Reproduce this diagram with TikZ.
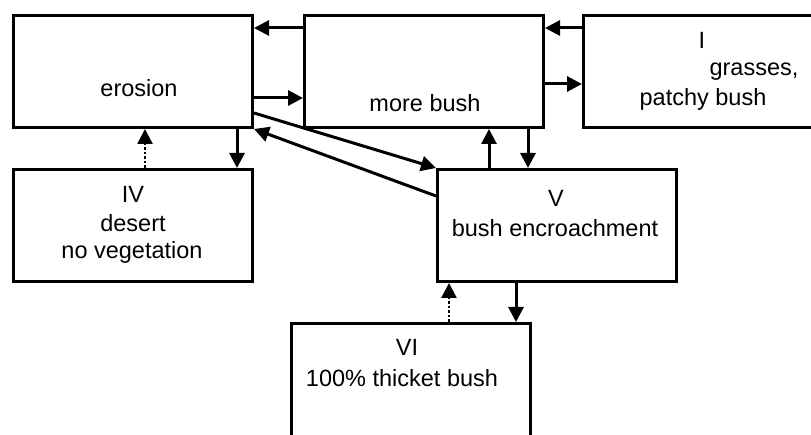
\documentclass[tikz,border=0pt]{standalone}
\usepackage{fontspec}
\setmainfont{Liberation Sans}
\usetikzlibrary{arrows.meta}
\begin{document}
\begin{tikzpicture}[x=1pt,y=-1pt,
  box/.style={draw,line width=3pt,minimum width=239pt,minimum height=112pt,inner sep=0pt,anchor=north west},
  txt/.style={inner sep=0pt,font=\fontsize{23.5}{29}\selectfont},
  arr/.style={line width=3pt,-{Triangle[length=15pt,width=15pt]}},
  dotarr/.style={line width=2.5pt,dotted,-{Triangle[length=15pt,width=15pt]}}]
\useasboundingbox (0,0) rectangle (811,435);
\clip (0,0) rectangle (811,435);
% boxes
\node[box] (er) at (12,14) {};
\node[box] (mb) at (303,14) {};
\node[box] (gr) at (582,14) {};
\node[box] (de) at (12,168) {};
\node[box] (be) at (436,168) {};
\node[box,minimum height=116pt] (th) at (290,322) {};
% texts
\node[txt] (terosion) at (139,88) {erosion};
\node[txt] (tmore) at (425,103) {more bush};
\node[txt] (tI) at (702,40) {I};
\node[txt] (tgr) at (754,72) {grasses,};
\node[txt] (tpb) at (703,99) {patchy bush};
\node[txt] (tIV) at (133,194) {IV};
\node[txt] (tdes) at (133,223) {desert};
\node[txt] (tnv) at (132,252) {no vegetation};
\node[txt] (tV) at (556,198) {V};
\node[txt] (tbe) at (555,228) {bush encroachment};
\node[txt] (tVI) at (407,347) {VI};
\node[txt] (ttb) at (402,378) {100\% thicket bush};
% connectors
\draw[arr] (mb.west |- 0,28) -- (er.east |- 0,28);
\draw[arr] (er.east |- 0,98) -- (mb.west |- 0,98);
\draw[arr] (gr.west |- 0,28) -- (mb.east |- 0,28);
\draw[arr] (mb.east |- 0,84) -- (gr.west |- 0,84);
\draw[arr] (er.south -| 237,0) -- (de.north -| 237,0);
\draw[dotarr] (de.north -| 145,0) -- (er.south -| 145,0);
\draw[arr] (er.east |- 0,113) -- (be.north west);
\draw[arr] (be.west |- 0,196) -- (er.south east);
\draw[arr] (be.north -| 489,0) -- (mb.south -| 489,0);
\draw[arr] (mb.south -| 528,0) -- (be.north -| 528,0);
\draw[arr] (be.south -| 516,0) -- (th.north -| 516,0);
\draw[dotarr] (th.north -| 449,0) -- (be.south -| 449,0);
\end{tikzpicture}
\end{document}
